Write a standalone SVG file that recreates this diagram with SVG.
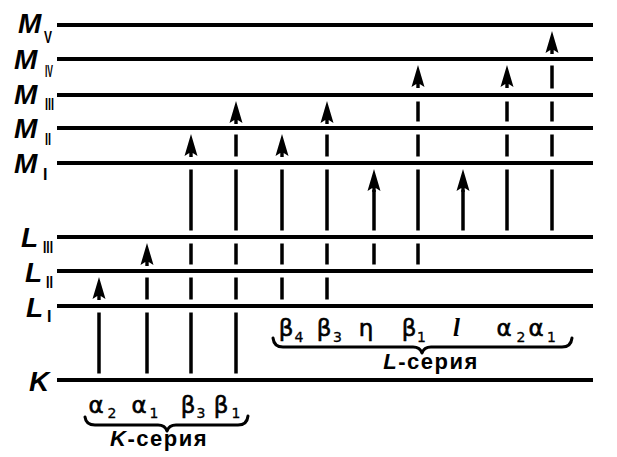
<svg xmlns="http://www.w3.org/2000/svg" width="617" height="457" viewBox="0 0 617 457">
<style>
.lv{stroke:#000;stroke-width:4;fill:none}
.lab{font-family:"Liberation Sans",Arial,sans-serif;font-weight:bold;font-style:italic;font-size:28px;fill:#000}
.sub{font-family:"Liberation Sans",Arial,sans-serif;font-weight:bold;font-size:16px;fill:#000}
.vs{stroke:#000;stroke-width:3.5;fill:none}
.gr{font-family:"DejaVu Sans",sans-serif;font-size:23px;fill:#000;text-anchor:middle;stroke:#000;stroke-width:0.6}
.dg{font-family:"DejaVu Sans",sans-serif;font-size:14px;fill:#000;text-anchor:middle;stroke:#000;stroke-width:0.3}
.it{font-family:"Liberation Serif","Times New Roman",serif;font-style:italic;font-weight:bold;font-size:25px;fill:#000;text-anchor:middle}
.ser{font-family:"Liberation Sans",Arial,sans-serif;font-weight:bold;font-size:22px;letter-spacing:1.5px;fill:#000;text-anchor:middle}
.br{stroke:#000;stroke-width:3;fill:none;stroke-linecap:round;stroke-linejoin:round}
</style>
<defs>
<path id="ah" d="M0,0 L6.5,22 L1.7,19 L1.7,23 L-1.7,23 L-1.7,19 L-6.5,22 Z" fill="#000"/>
</defs>
<rect width="617" height="457" fill="#fff"/>

<g id="MV"><line class="lv" x1="57" y1="25" x2="593" y2="25"/><text class="lab" x="18" y="33">M</text><text class="sub" x="44" y="43" textLength="8" lengthAdjust="spacingAndGlyphs">V</text></g>
<g id="MIV"><line class="lv" x1="57" y1="59" x2="593" y2="59"/><text class="lab" x="14" y="69">M</text><text class="sub" x="45" y="77" textLength="8" lengthAdjust="spacingAndGlyphs">IV</text></g>
<g id="MIII"><line class="lv" x1="57" y1="95" x2="593" y2="95"/><text class="lab" x="14" y="104">M</text><text class="sub" x="45" y="110" textLength="9" lengthAdjust="spacingAndGlyphs">III</text></g>
<g id="MII"><line class="lv" x1="57" y1="128" x2="593" y2="128"/><text class="lab" x="14" y="138">M</text><text class="sub" x="45" y="145" textLength="6" lengthAdjust="spacingAndGlyphs">II</text></g>
<g id="MI"><line class="lv" x1="57" y1="163" x2="593" y2="163"/><text class="lab" x="14" y="173">M</text><text class="sub" x="43" y="180">I</text></g>
<g id="LIII"><line class="lv" x1="57" y1="237" x2="593" y2="237"/><text class="lab" x="21" y="247">L</text><text class="sub" x="43" y="253" textLength="10" lengthAdjust="spacingAndGlyphs">III</text></g>
<g id="LII"><line class="lv" x1="57" y1="271" x2="593" y2="271"/><text class="lab" x="25" y="282">L</text><text class="sub" x="46" y="288" textLength="7" lengthAdjust="spacingAndGlyphs">II</text></g>
<g id="LI"><line class="lv" x1="57" y1="306" x2="593" y2="306"/><text class="lab" x="26" y="317">L</text><text class="sub" x="47" y="322">I</text></g>
<g id="K"><line class="lv" x1="57" y1="380" x2="593" y2="380"/><text class="lab" x="29" y="391">K</text></g>

<g id="connectors">
<path class="vs" d="M99,312.5V373.5"/>
<use href="#ah" x="99" y="277"/>
<path class="vs" d="M147,312.5V373.5M147,277.5V299.5"/>
<use href="#ah" x="147" y="243"/>
<path class="vs" d="M191,312.5V373.5M191,277.5V299.5M191,243.5V264.5M191,169.5V230.5"/>
<use href="#ah" x="191" y="134"/>
<path class="vs" d="M236,312.5V373.5M236,277.5V299.5M236,243.5V264.5M236,169.5V230.5M236,134.5V156.5"/>
<use href="#ah" x="236" y="101"/>
<path class="vs" d="M282,277.5V299.5M282,243.5V264.5M282,169.5V230.5"/>
<use href="#ah" x="282" y="134"/>
<path class="vs" d="M327,277.5V299.5M327,243.5V264.5M327,169.5V230.5M327,134.5V156.5"/>
<use href="#ah" x="327" y="101"/>
<path class="vs" d="M374,243.5V264.5M374,190V230.5"/>
<use href="#ah" x="374" y="169"/>
<path class="vs" d="M418,243.5V264.5M418,169.5V230.5M418,134.5V156.5M418,101.5V121.5"/>
<use href="#ah" x="418" y="65"/>
<path class="vs" d="M463,190V230.5"/>
<use href="#ah" x="463" y="169"/>
<path class="vs" d="M507,169.5V230.5M507,134.5V156.5M507,101.5V121.5"/>
<use href="#ah" x="507" y="65"/>
<path class="vs" d="M552,169.5V230.5M552,134.5V156.5M552,101.5V121.5M552,65.5V88.5"/>
<use href="#ah" x="552" y="31"/>
</g>

<g id="K-series">
<text class="gr" x="96" y="413">α</text><text class="dg" x="112" y="418">2</text>
<text class="gr" x="139" y="413">α</text><text class="dg" x="154" y="418">1</text>
<text class="gr" x="188" y="413">β</text><text class="dg" x="201" y="418">3</text>
<text class="gr" x="221" y="413">β</text><text class="dg" x="236" y="418">1</text>
<path class="br" d="M85,417 Q86,425 95,425 L158,425 Q165,425 167,431 Q169,425 176,425 L238,425 Q247,425 248,416"/>
<text class="ser" x="159" y="446"><tspan font-style="italic">K</tspan>-серия</text>
</g>

<g id="L-series">
<text class="gr" x="286" y="336">β</text><text class="dg" x="299" y="342">4</text>
<text class="gr" x="324" y="336">β</text><text class="dg" x="337.5" y="342">3</text>
<text class="gr" x="366" y="336">η</text>
<text class="gr" x="409" y="336">β</text><text class="dg" x="421.5" y="342">1</text>
<text class="it" x="456.5" y="336">l</text>
<text class="gr" x="504" y="336">α</text><text class="dg" x="521" y="342">2</text>
<text class="gr" x="536" y="336">α</text><text class="dg" x="551.5" y="342">1</text>
<path class="br" d="M273,338 Q274,347 283,347 L413,347 Q420,347 422,353 Q424,347 431,347 L562,347 Q571,347 572,338"/>
<text class="ser" x="431" y="369"><tspan font-style="italic">L</tspan>-серия</text>
</g>
</svg>
